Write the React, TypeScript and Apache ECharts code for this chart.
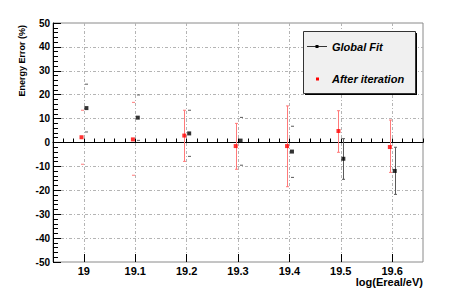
import React, { useEffect, useRef } from "react";
import * as echarts from "echarts";

const categories = [19, 19.1, 19.2, 19.3, 19.4, 19.5, 19.6];
const globalFit = [14.4, 10.4, 3.8, 0.8, -3.8, -6.8, -11.9];
const globalFitHigh = [24.4, 19.9, 13.5, 10.5, 6.8, 1.6, -2.0];
const globalFitLow = [4.4, 0.9, -5.8, -9.5, -14.6, -15.4, -21.7];
const afterIter = [2.2, 1.3, 2.9, -1.5, -1.5, 4.8, -1.9];
const afterIterHigh = [13.5, 16.8, 13.5, 8.0, 15.3, 13.3, 9.4];
const afterIterLow = [-9.1, -13.7, -7.9, -11.2, -18.5, -4.1, -12.5];
const xTickLabels = ["19", "19.1", "19.2", "19.3", "19.4", "19.5", "19.6"];

// which error-bar stems are drawn visibly in the reference (only the caps show elsewhere)
const redStemShown = [false, false, true, true, true, true, true];
const blackStemShown = [false, false, false, false, false, true, true];

const FONT = "Liberation Sans, Arial, sans-serif";
const RED_SHIFT = -0.0045;
const BLACK_SHIFT = 0.005;

function errSeries(xs: number[], lo: number[], hi: number[], stem: boolean[], color: string) {
  return {
    type: "custom",
    xAxisIndex: 0,
    yAxisIndex: 0,
    data: xs.map((x, i) => [x, lo[i], hi[i], stem[i] ? 1 : 0]),
    renderItem: (params: any, api: any) => {
      const x = api.value(0);
      const a = api.coord([x, api.value(1)]);
      const b = api.coord([x, api.value(2)]);
      const px = Math.round(a[0]) + 0.5;
      const st = { stroke: color, lineWidth: 1 };
      const children: any[] = [
        { type: "line", shape: { x1: px - 1.5, y1: a[1], x2: px + 1.5, y2: a[1] }, style: st },
        { type: "line", shape: { x1: px - 1.5, y1: b[1], x2: px + 1.5, y2: b[1] }, style: st },
      ];
      if (api.value(3) === 1) {
        children.push({ type: "line", shape: { x1: px, y1: a[1], x2: px, y2: b[1] }, style: st });
      }
      return { type: "group", children };
    },
    z: 3,
  };
}

export default function App() {
  const ref = useRef<HTMLDivElement>(null);
  useEffect(() => {
    if (!ref.current) return;
    const chart = echarts.init(ref.current, null, { renderer: "svg" });
    const redX = categories.map((c) => c + RED_SHIFT);
    const blackX = categories.map((c) => c + BLACK_SHIFT);
    const gridStyle = { color: "#b4b4b4", width: 1, type: [3, 2, 1, 2] as any };
    chart.setOption({
      animation: false,
      backgroundColor: "#ffffff",
      grid: {
        left: 53,
        top: 23,
        width: 370,
        height: 239,
        show: true,
        borderColor: "#8a8a8a",
        borderWidth: 1,
        backgroundColor: "transparent",
      },
      xAxis: [
        {
          type: "value",
          min: 18.94,
          max: 19.66,
          interval: 0.02,
          position: "bottom",
          axisLine: { show: true, lineStyle: { color: "#000", width: 1 } },
          axisTick: { show: true, inside: true, length: 4, lineStyle: { color: "#000" } },
          axisLabel: { show: false },
          splitLine: { show: false },
        },
        {
          type: "value",
          min: 18.94,
          max: 19.66,
          position: "bottom",
          axisLine: { show: false },
          axisTick: { show: true, inside: true, length: 8, customValues: categories, lineStyle: { color: "#000" } },
          axisLabel: {
            show: true,
            customValues: categories,
            formatter: (v: number) => {
              const i = categories.findIndex((c) => Math.abs(c - v) < 1e-6);
              return i >= 0 ? xTickLabels[i] : "";
            },
            fontFamily: FONT,
            fontWeight: "bold",
            fontSize: 11,
            color: "#000",
            margin: 3,
          },
          splitLine: { show: true, lineStyle: gridStyle },
        },
      ],
      yAxis: {
        type: "value",
        min: -50,
        max: 50,
        interval: 10,
        axisLine: { show: true, lineStyle: { color: "#000", width: 1 } },
        axisTick: { show: true, inside: true, length: 8, lineStyle: { color: "#000" } },
        minorTick: { show: true, splitNumber: 5, length: 5, lineStyle: { color: "#000" } },
        axisLabel: {
          fontFamily: FONT,
          fontWeight: "bold",
          fontSize: 10,
          color: "#000",
          margin: 3,
        },
        splitLine: { show: true, showMinLine: false, showMaxLine: false, lineStyle: gridStyle },
      },
      series: [
        errSeries(redX, afterIterLow, afterIterHigh, redStemShown, "#ff7a7a"),
        errSeries(blackX, globalFitLow, globalFitHigh, blackStemShown, "#5a5a5a"),
        {
          type: "scatter",
          name: "After iteration",
          data: redX.map((x, i) => [x, afterIter[i]]),
          symbol: "rect",
          symbolSize: 4,
          itemStyle: { color: "#ff0000" },
          z: 4,
        },
        {
          type: "scatter",
          name: "Global Fit",
          data: blackX.map((x, i) => [x, globalFit[i]]),
          symbol: "rect",
          symbolSize: 4,
          itemStyle: { color: "#000000" },
          z: 4,
        },
      ],
      graphic: [
        { type: "rect", shape: { x: 305, y: 33, width: 112, height: 62 }, style: { fill: "#000" }, z: 10 },
        { type: "rect", shape: { x: 303.5, y: 31.5, width: 112, height: 62 }, style: { fill: "#f0f0f0", stroke: "#333", lineWidth: 1 }, z: 11 },
        { type: "line", shape: { x1: 307, y1: 46.5, x2: 327, y2: 46.5 }, style: { stroke: "#333", lineWidth: 1 }, z: 12 },
        { type: "rect", shape: { x: 315.5, y: 45, width: 3, height: 3 }, style: { fill: "#000" }, z: 12 },
        { type: "rect", shape: { x: 316, y: 77.5, width: 3, height: 3 }, style: { fill: "#ff0000" }, z: 12 },
        {
          type: "text",
          x: 332,
          y: 46.5,
          style: { text: "Global Fit", font: "italic bold 11px " + FONT, fill: "#000", textVerticalAlign: "middle" },
          z: 12,
        },
        {
          type: "text",
          x: 332,
          y: 79,
          style: { text: "After iteration", font: "italic bold 11px " + FONT, fill: "#000", textVerticalAlign: "middle" },
          z: 12,
        },
        {
          type: "text",
          x: 423,
          y: 282,
          style: { text: "log(Ereal/eV)", font: "bold 11px " + FONT, fill: "#000", textAlign: "right", textVerticalAlign: "middle" },
          z: 12,
        },
        {
          type: "text",
          x: 22,
          y: 25,
          rotation: Math.PI / 2,
          style: { text: "Energy Error (%)", font: "bold 9px " + FONT, fill: "#000", textAlign: "right", textVerticalAlign: "middle" },
          z: 12,
        },
      ],
    });
    return () => chart.dispose();
  }, []);
  return <div ref={ref} style={{ width: 463, height: 299, position: "absolute", left: 0, top: 0 }} />;
}
